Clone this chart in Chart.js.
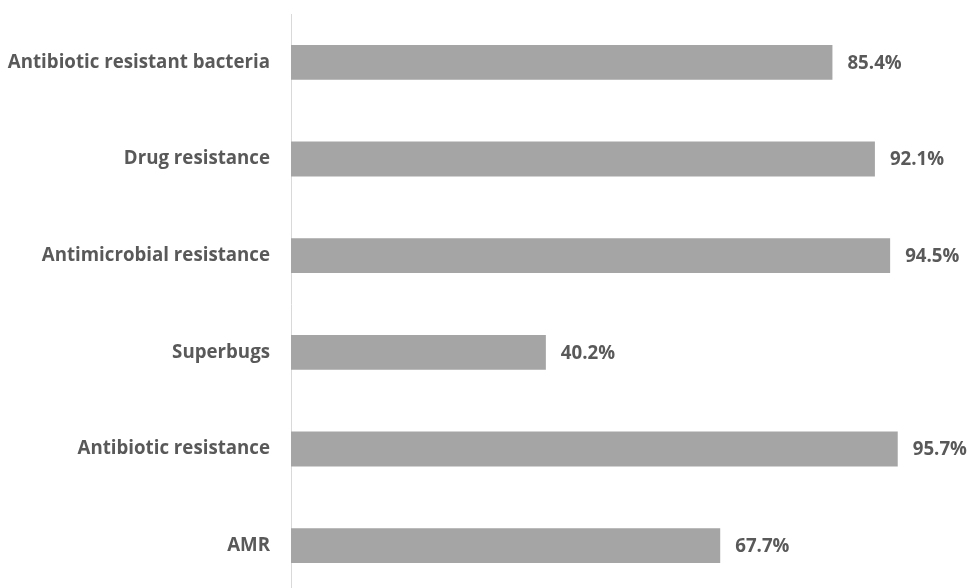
<!DOCTYPE html>
<html>
<head>
<meta charset="utf-8">
<script src="https://cdn.jsdelivr.net/npm/chart.js@4/dist/chart.umd.min.js"></script>
<style>
    html, body { margin: 0; padding: 0; background: #fff; overflow: hidden; }
    #wrap { width: 971px; height: 594px; }
</style>
</head>
<body>
<div id="wrap"><canvas id="chart" width="971" height="594"></canvas></div>
<script>
var categories = ['Antibiotic resistant bacteria', 'Drug resistance', 'Antimicrobial resistance', 'Superbugs', 'Antibiotic resistance', 'AMR'];
var values = [85.4, 92.1, 94.5, 40.2, 95.7, 67.7];

var textColor = '#595959';
var fontFamily = '"Open Sans", Lato, sans-serif';
var fontSize = 18.7;

// value labels at the end of each bar
var valueLabels = {
    id: 'valueLabels',
    afterDatasetsDraw: function (chart) {
        var ctx = chart.ctx;
        var meta = chart.getDatasetMeta(0);
        ctx.save();
        ctx.fillStyle = textColor;
        ctx.font = 'bold ' + fontSize + 'px ' + fontFamily;
        ctx.textAlign = 'left';
        ctx.textBaseline = 'middle';
        meta.data.forEach(function (bar, i) {
            ctx.fillText(values[i].toFixed(1) + '%', bar.x + 15, bar.y + 1);
        });
        ctx.restore();
    }
};

var ctx = document.getElementById('chart');
var myChart = new Chart(ctx, {
    type: 'bar',
    data: {
        labels: categories,
        datasets: [{
            data: values,
            backgroundColor: '#A5A5A5',
            borderWidth: 0,
            barPercentage: 0.36,
            categoryPercentage: 1
        }]
    },
    options: {
        indexAxis: 'y',
        responsive: false,
        animation: false,
        layout: { padding: { top: 14, right: 46, left: 0, bottom: 0 } },
        plugins: {
            legend: { display: false },
            tooltip: { enabled: false }
        },
        scales: {
            x: {
                display: false,
                min: 0,
                max: 100
            },
            y: {
                grid: { display: false, drawTicks: false },
                border: { display: true, color: '#D9D9D9', width: 1 },
                ticks: {
                    color: textColor,
                    padding: 21,
                    font: { family: fontFamily, size: fontSize, weight: 'bold' }
                },
                afterFit: function (scale) {
                    scale.width = 291;
                    // no extra room above/below for the tick labels
                    scale.paddingTop = 0;
                    scale.paddingBottom = 0;
                }
            }
        }
    },
    plugins: [valueLabels]
});
</script>
</body>
</html>
